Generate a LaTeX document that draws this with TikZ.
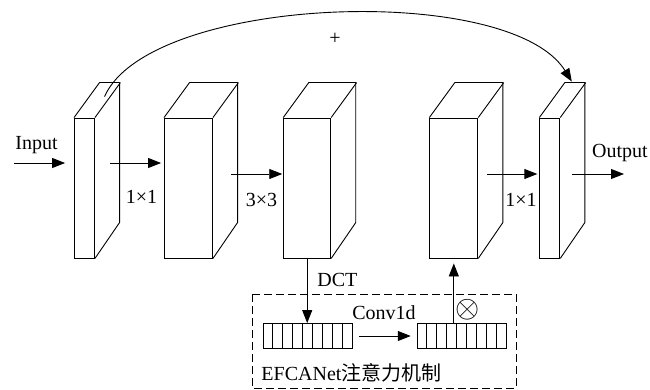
\documentclass[tikz,border=0pt]{standalone}
\usepackage{fontspec}
\setmainfont{Liberation Serif}
\newfontfamily\cjk{Noto Sans CJK SC}
\usepackage{tikz}
\usetikzlibrary{arrows.meta,positioning,calc}

\tikzset{
  face/.style={draw, fill=white, line width=0.9pt, inner sep=0pt, minimum height=140pt},
  arr/.style={-{Triangle[length=13pt,width=10pt]}, line width=0.9pt},
  lbl/.style={font=\fontsize{20}{24}\selectfont, inner sep=0pt},
  cellbar/.style={draw, line width=0.9pt, minimum width=89pt, minimum height=25pt, inner sep=0pt},
}

\begin{document}
\begin{tikzpicture}[x=1pt, y=-1pt, line width=0.9pt]
        \useasboundingbox (0,0) rectangle (650,390);
        % Feature blocks (front face + top and side faces)
        \foreach \n/\x/\w in {b1/84.5/20, b2/188.5/48, b3/307.2/47, b4/453.8/48, b5/549.8/20} {
          \node[face, minimum width=\w pt] (\n) at (\x,188) {};
          \draw[line join=round] (\n.north west) -- ++(25.5,-35) -- ++(\w,0) -- ++(0,140) -- (\n.south east);
          \draw (\n.north east) -- ++(25.5,-35);
        }
        % Input / output
        \node[lbl] (inp) at (36.5,145) {Input};
        \coordinate (inL) at (14,163);
        \draw[arr, shorten >=9pt] (inL) -- (inL -| b1.west);
        \node[lbl] (outp) at (620,153) {Output};
        \coordinate (outR) at (624,174);
        \draw[arr] (outR -| 572,0) -- (outR);
        % Convolutions between blocks
        \draw[arr, shorten >=3pt] ($(b1.east)+(15.5,-25)$) -- ($(b2.west)+(0,-25)$);
        \node[lbl] (k1) at (141.5,197) {1×1};
        \draw[arr, shorten >=1pt] ($(b2.east)+(18.5,-14)$) -- ($(b3.west)+(0,-14)$);
        \node[lbl] (k3) at (261.5,200) {3×3};
        \draw[arr, shorten >=2pt] ($(b4.east)+(8.5,-14)$) -- ($(b5.west)+(0,-14)$);
        \node[lbl] (k2) at (521,200) {1×1};
        % Skip connection
        \coordinate (skipS) at ($(b1.north)+(20,-21)$);
        \coordinate (skipE) at ($(b5.north)+(22,-36)$);
        \draw[arr] (skipS) .. controls (150,-5) and (510,-18) .. (skipE);
        \node[lbl] (plus) at (335,39) {+};
        % Attention module
        \draw[dash pattern=on 8pt off 4pt] (252,294) rectangle (516,388);
        \node[cellbar] (bar1) at (307.8,336) {};
        \node[cellbar] (bar2) at (461.7,336) {};
        \foreach \bar in {bar1,bar2}
          \foreach \i in {1,...,8}
            \draw ($(\bar.north west)!\i/9!(\bar.north east)$) -- ($(\bar.south west)!\i/9!(\bar.south east)$);
        \draw[arr] (b3.south) -- (b3.south |- bar1.north);
        \node[lbl, anchor=west] (dct) at (317,280) {DCT};
        \draw[arr, shorten <=6pt, shorten >=6pt] (bar1) -- (bar2);
        \node[lbl] (conv) at (384,313) {Conv1d};
        \draw[arr, shorten >=5pt] (bar2.north -| b4.south) -- (b4.south);
        \node[lbl, scale=1.5] (mul) at (467.5,310) {$\otimes$};
        \node[lbl, anchor=west] (eca) at (261,373) {EFCANet{\cjk 注意力机制}};
      \end{tikzpicture}
\end{document}
